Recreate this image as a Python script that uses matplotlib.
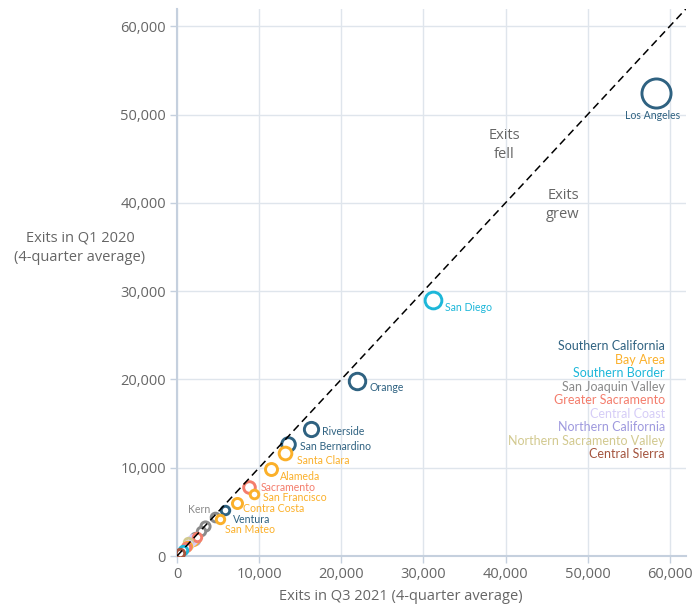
import numpy as np
import matplotlib
matplotlib.use('Agg')
import matplotlib.pyplot as plt

# region names and colours
regions = ['Southern California', 'Bay Area', 'Southern Border', 'San Joaquin Valley',
           'Greater Sacramento', 'Central Coast', 'Northern California',
           'Northern Sacramento Valley', 'Central Sierra']
region_colors = ['#2f6281', '#fbb02a', '#1db7d9', '#8a8a8a', '#f47d6c',
                 '#d6cdf7', '#9e99de', '#d2c98f', '#a4553f']

# county data: name, region index, exits Q3 2021, exits Q1 2020, population (millions)
counties = ['Los Angeles', 'San Diego', 'Orange', 'Riverside', 'San Bernardino',
            'Santa Clara', 'Alameda', 'Sacramento', 'Contra Costa', 'Fresno',
            'Kern', 'San Francisco', 'Ventura', 'San Joaquin', 'San Mateo',
            'Stanislaus', 'Sonoma', 'Tulare', 'Santa Barbara', 'Solano',
            'Monterey', 'Placer', 'Northern Calif.', 'Butte', 'Santa Cruz',
            'Marin', 'Yolo', 'Imperial', 'Central Sierra']
county_region = [0, 2, 0, 0, 0, 1, 1, 4, 1, 3, 3, 1, 0, 3, 1, 3, 1, 3, 5, 1,
                 5, 4, 6, 7, 5, 1, 4, 2, 8]
exits_2021 = [58350, 31170, 21900, 16270, 13530, 13130, 11440, 8820, 7330, 3400,
              4590, 9340, 5800, 2900, 5280, 2200, 2350, 1500, 2000, 1900,
              1750, 2450, 2170, 1330, 1350, 1250, 1150, 700, 350]
exits_2020 = [52410, 28980, 19850, 14380, 12640, 11630, 9850, 7810, 6030, 3450,
              4450, 6980, 5210, 2850, 4150, 2150, 2050, 1450, 1900, 1700,
              1700, 2150, 1810, 1620, 1250, 1100, 1050, 650, 300]
population = [10.0, 3.3, 3.2, 2.4, 2.2, 1.9, 1.7, 1.6, 1.2, 1.0,
              0.9, 0.87, 0.85, 0.78, 0.77, 0.55, 0.49, 0.47, 0.45, 0.45,
              0.44, 0.4, 0.5, 0.3, 0.27, 0.26, 0.22, 0.18, 0.12]

# labels shown next to points: name -> (dx px, dy px, ha)
labelled = {
    'Los Angeles': (-4, -22, 'center'),
    'San Diego': (12, -7, 'left'),
    'Orange': (13, -7, 'left'),
    'Riverside': (11, -2, 'left'),
    'San Bernardino': (12, -2, 'left'),
    'Santa Clara': (12, -7, 'left'),
    'Alameda': (9, -7, 'left'),
    'Sacramento': (11, 0, 'left'),
    'San Francisco': (9, -3, 'left'),
    'Contra Costa': (6, -6, 'left'),
    'Ventura': (8, -9, 'left'),
    'San Mateo': (5, -10, 'left'),
    'Kern': (-4, 7, 'right'),
}

label_font = 'Lato'
tick_font = 'Open Sans'
grey = '#666666'

fig = plt.figure(figsize=(6.96, 6.10), dpi=100)
ax = fig.add_axes([0.2543, 0.0885, 0.7317, 0.8975])

lim = 62000
ax.set_xlim(0, lim)
ax.set_ylim(0, lim)
ax.set_xticks(np.arange(0, 60001, 10000))
ax.set_yticks(np.arange(0, 60001, 10000))
ax.set_xticklabels(['0'] + ['{:,}'.format(v) for v in range(10000, 60001, 10000)])
ax.set_yticklabels(['0'] + ['{:,}'.format(v) for v in range(10000, 60001, 10000)])
for lab in ax.get_xticklabels() + ax.get_yticklabels():
    lab.set_fontfamily(tick_font)
    lab.set_fontsize(10.5)
    lab.set_color(grey)
ax.tick_params(length=5, width=1, color='#c5d0de', pad=3)
ax.grid(color='#dfe5ec', linewidth=1)
ax.set_axisbelow(True)
for side in ['top', 'right']:
    ax.spines[side].set_visible(False)
for side in ['left', 'bottom']:
    ax.spines[side].set_color('#c5d0de')
    ax.spines[side].set_linewidth(1.5)

# circles, biggest first so small ones stay on top
order = np.argsort(population)[::-1]
for i in order:
    r_px = max(4.6 * np.sqrt(population[i]), 4.2)
    s = (2 * r_px * 0.72) ** 2
    ax.scatter(exits_2021[i], exits_2020[i], s=s, facecolor='white',
               edgecolor=region_colors[county_region[i]], linewidth=2.1, zorder=3)

# equal-exits line
ax.plot([0, lim], [0, lim], color='black', linestyle=(0, (5, 3)), linewidth=1.1, zorder=4)

for name, (dx, dy, ha) in labelled.items():
    i = counties.index(name)
    ax.annotate(name, (exits_2021[i], exits_2020[i]), xytext=(dx * 0.72, dy * 0.72),
                textcoords='offset points', ha=ha, va='center', fontsize=7.6,
                family=label_font, color=region_colors[county_region[i]], zorder=5)

ax.text(39860, 46550, 'Exits\nfell', ha='center', va='center', fontsize=10.5,
        family=tick_font, color=grey, linespacing=1.35)
ax.text(47000, 39750, 'Exits\ngrew', ha='center', va='center', fontsize=10.5,
        family=tick_font, color=grey, linespacing=1.35)

# region key
for k, (reg, col) in enumerate(zip(regions, region_colors)):
    ax.text(59400, 23780 - k * 1530, reg, ha='right', va='center', fontsize=9,
            family=label_font, color=col)

fig.text(401 / 696, 1 - 597 / 610, 'Exits in Q3 2021 (4-quarter average)', ha='center',
         va='center', fontsize=10.5, family=tick_font, color=grey)
fig.text(80 / 696, 1 - 248 / 610, 'Exits in Q1 2020\n(4-quarter average)', ha='center',
         va='center', fontsize=10.5, family=tick_font, color=grey, linespacing=1.4)

fig.savefig('out.png', dpi=100)
